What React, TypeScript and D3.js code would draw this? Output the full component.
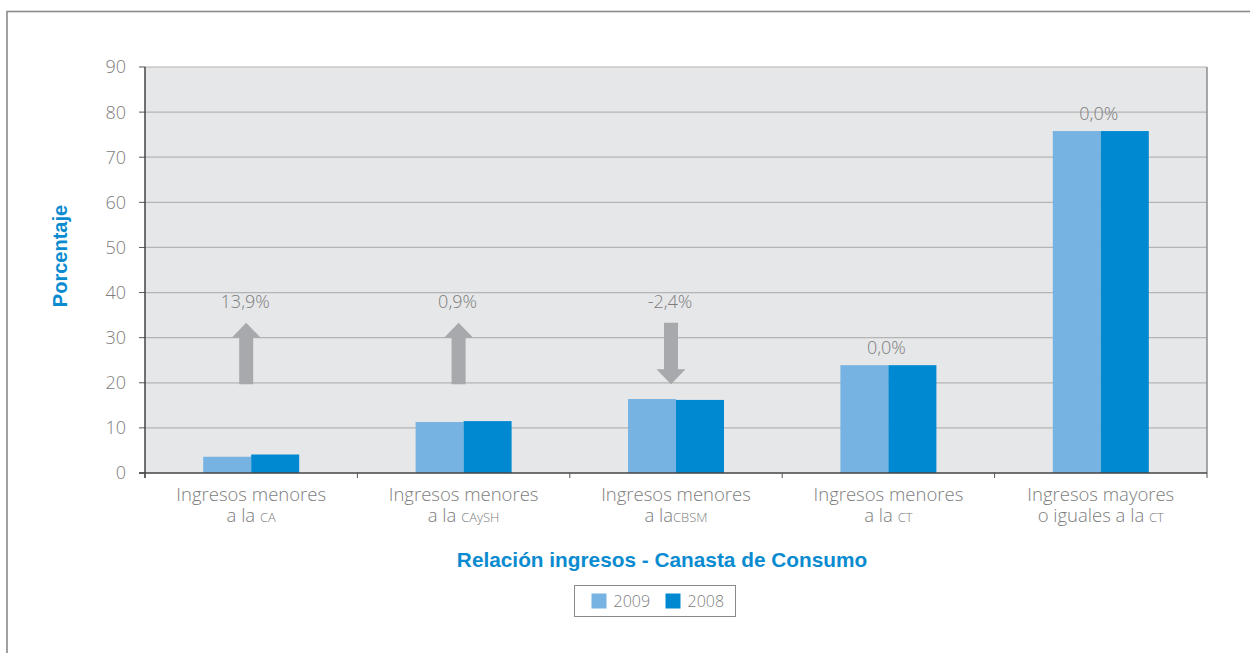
import React from 'react';
import * as d3 from 'd3';

// Data
const CATEGORY_LINE1 = ['Ingresos menores', 'Ingresos menores', 'Ingresos menores', 'Ingresos menores', 'Ingresos mayores'];
const CATEGORY_LINE2 = ['a la ', 'a la ', 'a la', 'a la ', 'o iguales a la '];
const CATEGORY_ABBR = ['CA', 'CAySH', 'CBSM', 'CT', 'CT'];
const SERIES_NAMES = ['2009', '2008'];
const VALUES_2009 = [3.6, 11.3, 16.4, 23.9, 75.8];
const VALUES_2008 = [4.1, 11.5, 16.2, 23.9, 75.8];
const CHANGE_LABELS = ['13,9%', '0,9%', '-2,4%', '0,0%', '0,0%'];
const CHANGE_DIR = ['up', 'up', 'down', '', ''];
const Y_TICKS = [0, 10, 20, 30, 40, 50, 60, 70, 80, 90];

const COLORS = ['#77b3e2', '#0088d1'];
const TEXT_GRAY = '#7d7d7d';
const BLUE = '#0a8bd0';
const FONT = '"Open Sans", "Liberation Sans", sans-serif';
const TITLE_FONT = '"Liberation Sans", Arial, sans-serif';

export default function App() {
    const width = 1250;
    const height = 653;
    const margin = { left: 145, right: 43, top: 67, bottom: 180 };
    const plotW = width - margin.left - margin.right;
    const plotH = height - margin.top - margin.bottom;

    const x = d3.scaleBand<number>()
        .domain(d3.range(CATEGORY_LINE1.length))
        .range([0, plotW])
        .paddingInner(0.548)
        .paddingOuter(0.274);
    const step = x.step();
    const xs = d3.scaleBand<number>()
        .domain([0, 1])
        .range([0, x.bandwidth()]);
    const y = d3.scaleLinear().domain([0, 90]).range([plotH, 0]);

    const series = [VALUES_2009, VALUES_2008];

    // arrow geometry in data units
    const arrowLow = 19.7;
    const arrowHigh = 33.3;
    const headLen = 15;
    const shaftW = 14;
    const headW = 29;

    const arrowPath = (cx: number, dir: string) => {
        const yTop = y(arrowHigh);
        const yBot = y(arrowLow);
        if (dir === 'up') {
            const neck = yTop + headLen;
            return `M${cx - shaftW / 2},${yBot} L${cx - shaftW / 2},${neck} L${cx - headW / 2},${neck} L${cx},${yTop} L${cx + headW / 2},${neck} L${cx + shaftW / 2},${neck} L${cx + shaftW / 2},${yBot} Z`;
        }
        const neck = yBot - headLen;
        return `M${cx - shaftW / 2},${yTop} L${cx - shaftW / 2},${neck} L${cx - headW / 2},${neck} L${cx},${yBot} L${cx + headW / 2},${neck} L${cx + shaftW / 2},${neck} L${cx + shaftW / 2},${yTop} Z`;
    };

    return (
        <svg width={width} height={height} style={{ position: 'absolute', left: 0, top: 0, background: '#fff' }}
            fontFamily={FONT}>
            {/* outer frame */}
            <rect x={7} y={11.5} width={width + 10} height={height + 10} fill="none" stroke="#8a8a8a" strokeWidth={1.6} />

            <g transform={`translate(${margin.left},${margin.top})`}>
                <rect x={0} y={0} width={plotW} height={plotH} fill="#e6e7e9" />
                {Y_TICKS.map(t => (
                    <g key={t}>
                        {t > 0 && <line x1={0} x2={plotW} y1={y(t)} y2={y(t)} stroke="#b4b4b4" strokeWidth={1.2} />}
                        <line x1={-6} x2={0} y1={y(t)} y2={y(t)} stroke="#555" strokeWidth={1} />
                        <text x={-19} y={y(t)} dy="0.36em" textAnchor="end" fontSize={18} fontWeight={300} fill={TEXT_GRAY}>{t}</text>
                    </g>
                ))}
                <line x1={plotW} x2={plotW} y1={0} y2={plotH} stroke="#8c8c8c" strokeWidth={1.5} />

                {/* bars */}
                {series.map((vals, si) => vals.map((v, i) => (
                    <rect key={`${si}-${i}`}
                        x={(x(i) ?? 0) + (xs(si) ?? 0)}
                        y={y(v)}
                        width={xs.bandwidth()}
                        height={plotH - y(v)}
                        fill={COLORS[si]} />
                )))}

                {/* change annotations */}
                {CHANGE_LABELS.map((lab, i) => {
                    const cx = (x(i) ?? 0) + x.bandwidth() / 2;
                    const dir = CHANGE_DIR[i];
                    const top = Math.max(...series.map(s => s[i]));
                    const ly = dir ? y(arrowHigh) - 15 : y(top) - 11;
                    const ax = cx - 5;
                    return (
                        <g key={`c-${i}`}>
                            {dir && <path d={arrowPath(ax, dir)} fill="#a8a9ac" />}
                            <text x={dir ? ax - 1 : cx - 2} y={ly} textAnchor="middle" fontSize={18} fontWeight={300} fill={TEXT_GRAY}>{lab}</text>
                        </g>
                    );
                })}

                {/* axes */}
                <line x1={0} x2={0} y1={0} y2={plotH + 5} stroke="#444" strokeWidth={1.5} />
                <line x1={-6} x2={plotW} y1={plotH} y2={plotH} stroke="#444" strokeWidth={1.5} />
                {d3.range(CATEGORY_LINE1.length + 1).map(i => (
                    <line key={`t-${i}`} x1={i * step} x2={i * step} y1={plotH} y2={plotH + 5} stroke="#555" strokeWidth={1} />
                ))}

                {/* category labels */}
                {CATEGORY_LINE1.map((l1, i) => {
                    const cx = (x(i) ?? 0) + x.bandwidth() / 2;
                    return (
                        <text key={`l-${i}`} textAnchor="middle" fontSize={18.5} fontWeight={300} fill={TEXT_GRAY}>
                            <tspan x={cx} y={plotH + 28}>{l1}</tspan>
                            <tspan x={cx} y={plotH + 49}>{CATEGORY_LINE2[i]}<tspan fontSize={13}>{CATEGORY_ABBR[i]}</tspan></tspan>
                        </text>
                    );
                })}
            </g>

            {/* axis titles */}
            <text transform={`translate(67,256) rotate(-90)`} textAnchor="middle" fontFamily={TITLE_FONT} fontSize={20} fontWeight={700} fill={BLUE}>Porcentaje</text>
            <text x={662} y={567} textAnchor="middle" fontFamily={TITLE_FONT} fontSize={20.8} fontWeight={700} fill={BLUE}>Relación ingresos - Canasta de Consumo</text>

            {/* legend */}
            <g transform="translate(574.5,585.5)">
                <rect x={0} y={0} width={161} height={31} fill="#fff" stroke="#8a8a8a" strokeWidth={1} />
                {SERIES_NAMES.map((name, i) => (
                    <g key={name} transform={`translate(${17 + i * 74},8)`}>
                        <rect x={0} y={0} width={15} height={15} fill={COLORS[i]} />
                        <text x={22} y={8} dy="0.36em" fontSize={16} fontWeight={300} fill={TEXT_GRAY}>{name}</text>
                    </g>
                ))}
            </g>
        </svg>
    );
}
